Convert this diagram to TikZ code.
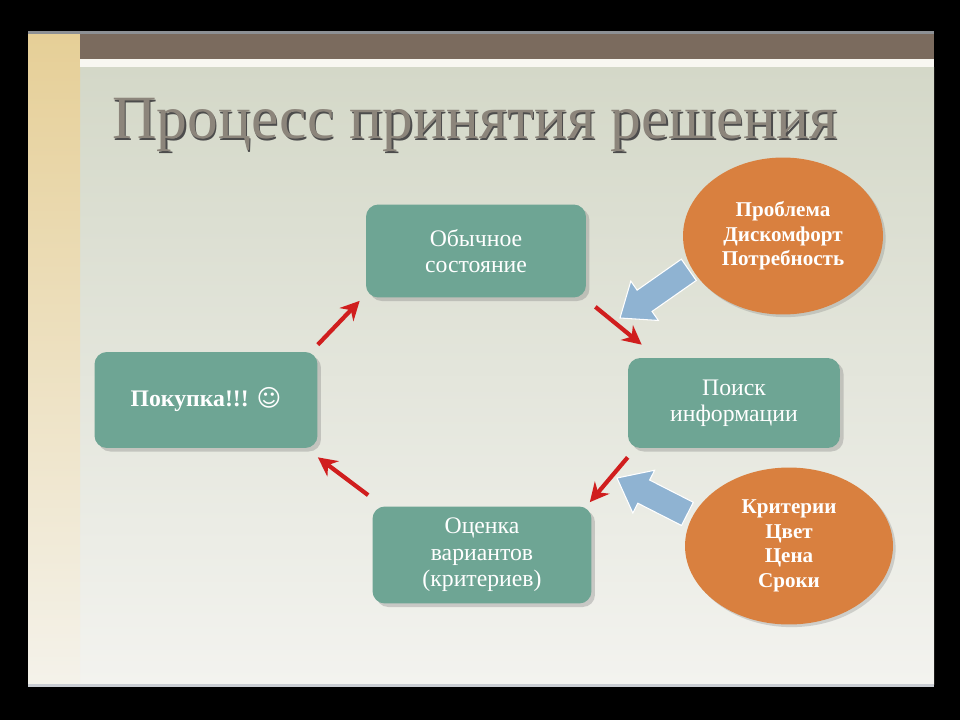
\documentclass[tikz,border=0pt]{standalone}
\usepackage{fontspec}
\setmainfont{Liberation Serif}
\newfontfamily\symfont{DejaVu Sans}
\usetikzlibrary{arrows.meta,shadows,shapes.geometric}

\definecolor{boxteal}{HTML}{6EA594}
\definecolor{ovalorange}{HTML}{D9803F}
\definecolor{arrowblue}{HTML}{8FB3D2}
\definecolor{arrowred}{HTML}{D01E1E}
\definecolor{barbrown}{HTML}{7B6B5E}
\definecolor{titlegray}{HTML}{8C857B}
\definecolor{bgtop}{HTML}{D4D8C8}
\definecolor{bgbottom}{HTML}{F3F3EF}
\definecolor{striptop}{HTML}{E6CF97}
\definecolor{stripbottom}{HTML}{F4F2EA}
\definecolor{whitebar}{HTML}{F8F7F1}
\definecolor{edgeblue}{HTML}{C9CDD3}

% blue block arrow: tip, angle, length
\newcommand{\bluearrow}[4]{%
  \begin{scope}[shift={(#1,#2)},rotate=#3]
    \fill[arrowblue,draw=white,line width=0.6pt] (0,0) -- (30,24) -- (30,13) -- (#4,13) -- (#4,-13) -- (30,-13) -- (30,-24) -- cycle;
  \end{scope}}

\begin{document}
\begin{tikzpicture}[x=0.02cm,y=-0.02cm,
    stepbox/.style={rectangle,rounded corners=7pt,fill=boxteal,text=white,align=center,
      minimum width=4.4cm,minimum height=1.86cm,font=\fontsize{13.5}{15}\selectfont,
      drop shadow={opacity=0.35,shadow xshift=2pt,shadow yshift=-2pt}},
    oval/.style={ellipse,fill=ovalorange,text=white,align=center,
      minimum width=4cm,minimum height=3.14cm,font=\bfseries\fontsize{12}{14}\selectfont,
      drop shadow={opacity=0.3,shadow xshift=1.5pt,shadow yshift=-1.5pt}},
    redarrow/.style={arrowred,line width=2.4pt,-{Stealth[length=0.38cm,width=0.38cm]}}]
  % frame and slide
  \fill[black] (0,0) rectangle (960,720);
  \fill[edgeblue!70!black] (28,31) rectangle (934,34);
  \shade[top color=bgtop,bottom color=bgbottom] (80,67) rectangle (934,684);
  \shade[top color=striptop,bottom color=stripbottom] (28,34) rectangle (80,684);
  \fill[barbrown] (80,34) rectangle (934,59);
  \fill[whitebar] (80,59) rectangle (934,67);
  \fill[edgeblue] (28,684) rectangle (934,687);
  % title
  \node[text=black!70,font=\fontsize{35}{40}\selectfont] at (476.5,126.5) {Процесс принятия решения};
  \node[text=titlegray,font=\fontsize{35}{40}\selectfont] at (475,125) {Процесс принятия решения};
  % steps
  \node[stepbox] (usual) at (476,251) {Обычное\\состояние};
  \node[stepbox,minimum width=4.46cm,minimum height=1.92cm] (buy) at (206,400) {\textbf{Покупка!!!} {\symfont ☺}};
  \node[stepbox,minimum width=4.24cm,minimum height=1.8cm] (search) at (734,403) {Поиск\\информации};
  \node[stepbox,minimum width=4.38cm,minimum height=1.94cm] (eval) at (482,555) {Оценка\\вариантов\\(критериев)};
  % ovals
  \node[oval] (need) at (783,236) {Проблема\\Дискомфорт\\Потребность};
  \node[oval,minimum width=4.16cm] (crit) at (789,546) {Критерии\\Цвет\\Цена\\Сроки};
  % cycle arrows
  \draw[redarrow] ([shift={(0,-7)}]buy.north east) -- ([shift={(-6,3)}]usual.south west);
  \draw[redarrow] ([shift={(9,9)}]usual.south east) -- ([shift={(14,-13)}]search.north west);
  \draw[redarrow] ([shift={(0,9)}]search.south west) -- ([shift={(-2,-4)}]eval.north east);
  \draw[redarrow] ([shift={(-4,-11)}]eval.north west) -- ([shift={(0,9)}]buy.south east);
  % blue inputs
  \bluearrow{620}{318}{35}{84}
  \bluearrow{617}{478}{-27}{79}
\end{tikzpicture}
\end{document}
